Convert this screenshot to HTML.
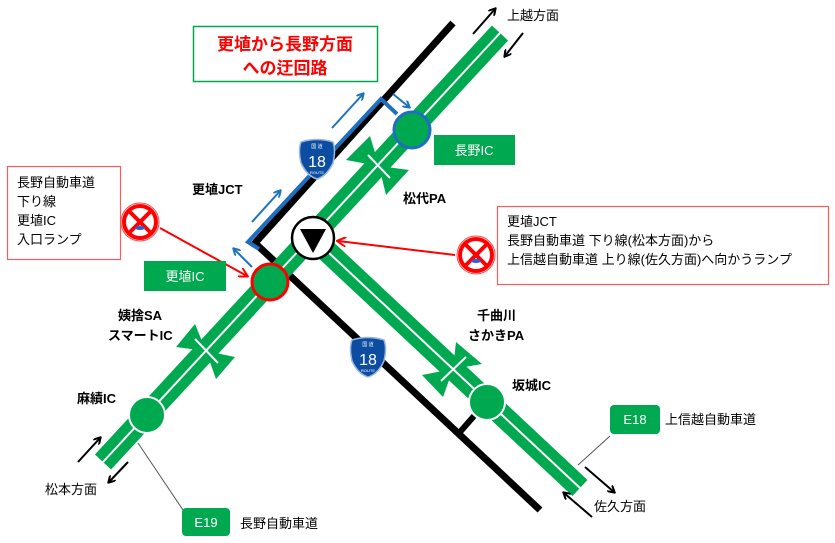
<!DOCTYPE html>
<html><head><meta charset="utf-8"><style>
html,body{margin:0;padding:0;background:#fff;}
svg{display:block;font-family:"Liberation Sans","Noto Sans CJK JP",sans-serif;}
</style></head><body>
<svg width="835" height="543" viewBox="0 0 835 543" xmlns="http://www.w3.org/2000/svg">
<defs>
<marker id="ab" markerWidth="8" markerHeight="8" refX="6" refY="4" orient="auto" markerUnits="userSpaceOnUse"><path d="M0,0 L7,4 L0,8" fill="none" stroke="#000" stroke-width="2"/></marker>
<marker id="abl" markerWidth="8" markerHeight="8" refX="6" refY="4" orient="auto" markerUnits="userSpaceOnUse"><path d="M0,0 L7,4 L0,8" fill="none" stroke="#1e73be" stroke-width="2"/></marker>
<marker id="ar" markerWidth="10" markerHeight="10" refX="8" refY="5" orient="auto" markerUnits="userSpaceOnUse"><path d="M0,0 L9,5 L0,10" fill="none" stroke="#f00" stroke-width="2"/></marker>
</defs>

<polyline points="453,23 255,243 540,510" fill="none" stroke="#000" stroke-width="7"/>
<line x1="460" y1="432" x2="474" y2="416" stroke="#000" stroke-width="6"/>

<polyline points="259,249 248,242 381,99 397,114" fill="none" stroke="#1e6fbf" stroke-width="4"/>

<line x1="103" y1="462" x2="500" y2="33" stroke="#00a850" stroke-width="22"/>
<line x1="103" y1="462" x2="500" y2="33" stroke="#fff" stroke-width="2"/>
<line x1="313" y1="238" x2="580" y2="488" stroke="#00a850" stroke-width="22"/>
<line x1="313" y1="238" x2="580" y2="488" stroke="#fff" stroke-width="2"/>

<g fill="#00a850">
<polygon points="346,160 370,136 379,166"/><polygon points="386,195 409,170 379,166"/>
<polygon points="176,347 195,324 206,351"/><polygon points="216,379 235,357 206,351"/>
<polygon points="456,342 482,364 453,369"/><polygon points="422,375 443,397 453,369"/>
</g>
<g stroke="#fff" stroke-width="2">
<line x1="368" y1="155" x2="390" y2="178"/><line x1="195" y1="339" x2="218" y2="363"/><line x1="441" y1="381" x2="466" y2="357"/>
</g>

<circle cx="412" cy="130" r="18" fill="#00a850" stroke="#1e6fbf" stroke-width="3"/>
<circle cx="270" cy="282" r="18" fill="#00a850" stroke="#f00" stroke-width="3"/>
<circle cx="147" cy="415" r="18" fill="#00a850" stroke="#fff" stroke-width="2"/>
<circle cx="487" cy="402" r="18" fill="#00a850" stroke="#fff" stroke-width="2"/>
<circle cx="313" cy="238" r="21" fill="#fff" stroke="#000" stroke-width="2.5"/>
<polygon points="300,229 326,229 313,253" fill="#000"/>

<g>
<path d="M301,142 Q317,137 333,142 Q336,150 333,163 Q327,176 317,179 Q307,176 301,163 Q298,150 301,142Z" fill="#0d4da1" stroke="#9bb8e0" stroke-width="1.5"/>
<text x="317" y="148" font-size="5" fill="#fff" text-anchor="middle">国 道</text>
<text x="317" y="167" font-size="16" fill="#fff" text-anchor="middle">18</text>
<text x="317" y="174" font-size="4" fill="#fff" text-anchor="middle">ROUTE</text>
</g>
<g>
<path d="M352,340 Q368,335 384,340 Q387,348 384,361 Q378,374 368,377 Q358,374 352,361 Q349,348 352,340Z" fill="#0d4da1" stroke="#9bb8e0" stroke-width="1.5"/>
<text x="368" y="346" font-size="5" fill="#fff" text-anchor="middle">国 道</text>
<text x="368" y="365" font-size="16" fill="#fff" text-anchor="middle">18</text>
<text x="368" y="372" font-size="4" fill="#fff" text-anchor="middle">ROUTE</text>
</g>

<g stroke="#1e73be" stroke-width="2" fill="none" marker-end="url(#abl)">
<line x1="252" y1="222" x2="280" y2="191"/>
<line x1="332" y1="128" x2="363" y2="94"/>
<line x1="393" y1="94" x2="409" y2="107"/>
<line x1="252" y1="267" x2="234" y2="249"/>
</g>

<g stroke="#000" stroke-width="2" fill="none" marker-end="url(#ab)">
<line x1="473" y1="34" x2="495" y2="9"/>
<line x1="523" y1="33" x2="505" y2="56"/>
<line x1="78" y1="462" x2="100" y2="438"/>
<line x1="128" y1="462" x2="109" y2="482"/>
<line x1="585" y1="467" x2="614" y2="492"/>
<line x1="592" y1="517" x2="564" y2="493"/>
</g>

<line x1="138" y1="443" x2="183" y2="510" stroke="#555" stroke-width="1"/>
<line x1="610" y1="436" x2="578" y2="465" stroke="#555" stroke-width="1"/>

<rect x="193.5" y="26.5" width="184" height="55" fill="#fff" stroke="#00a850" stroke-width="1.5"/>
<text x="285" y="50" font-size="17" font-weight="bold" fill="#f00" text-anchor="middle">更埴から長野方面</text>
<text x="285" y="74" font-size="17" font-weight="bold" fill="#f00" text-anchor="middle">への迂回路</text>

<rect x="7.5" y="166.5" width="113" height="93" fill="#fff" stroke="#f06060" stroke-width="1.2"/>
<g font-size="13" fill="#000">
<text x="17" y="187">長野自動車道</text>
<text x="17" y="206">下り線</text>
<text x="17" y="225">更埴IC</text>
<text x="17" y="244">入口ランプ</text>
</g>
<rect x="497.5" y="206.5" width="331" height="78" fill="#fff" stroke="#f06060" stroke-width="1.2"/>
<g font-size="13" fill="#000">
<text x="507" y="226">更埴JCT</text>
<text x="507" y="245">長野自動車道 下り線(松本方面)から</text>
<text x="507" y="264">上信越自動車道 上り線(佐久方面)へ向かうランプ</text>
</g>

<line x1="160" y1="228" x2="247" y2="276" stroke="#f00" stroke-width="2" marker-end="url(#ar)"/>
<line x1="455" y1="255" x2="338" y2="241" stroke="#f00" stroke-width="2" marker-end="url(#ar)"/>

<g>
<circle cx="140" cy="222" r="19" fill="#fff" stroke="#f44" stroke-width="1"/>
<circle cx="140" cy="222" r="16" fill="#fff" stroke="#f00" stroke-width="4"/>
<path d="M130,212 L150,232 M150,212 L130,232" stroke="#f00" stroke-width="4"/>
<ellipse cx="140" cy="228" rx="5" ry="2" fill="#2b5fe0"/>
</g>
<g>
<circle cx="476" cy="255" r="19" fill="#fff" stroke="#f44" stroke-width="1"/>
<circle cx="476" cy="255" r="16" fill="#fff" stroke="#f00" stroke-width="4"/>
<path d="M466,245 L486,265 M486,245 L466,265" stroke="#f00" stroke-width="4"/>
<ellipse cx="476" cy="261" rx="5" ry="2" fill="#2b5fe0"/>
</g>

<rect x="434" y="135" width="81" height="30" fill="#00a850"/>
<text x="474" y="155" font-size="13" fill="#fff" text-anchor="middle">長野IC</text>
<rect x="144" y="261" width="82" height="30" fill="#00a850"/>
<text x="185" y="281" font-size="13" fill="#fff" text-anchor="middle">更埴IC</text>
<rect x="182" y="508" width="48" height="28" rx="4" fill="#00a850"/>
<text x="206" y="527" font-size="13" fill="#fff" text-anchor="middle">E19</text>
<text x="240" y="528" font-size="13" fill="#000">長野自動車道</text>
<rect x="610" y="405" width="50" height="29" rx="4" fill="#00a850"/>
<text x="635" y="424" font-size="13" fill="#fff" text-anchor="middle">E18</text>
<text x="665" y="424" font-size="13" fill="#000">上信越自動車道</text>

<g font-size="13" fill="#000">
<text x="507" y="20">上越方面</text>
<text x="45" y="494">松本方面</text>
<text x="594" y="511">佐久方面</text>
</g>
<g font-size="13" font-weight="bold" fill="#000">
<text x="192" y="194">更埴JCT</text>
<text x="403" y="203">松代PA</text>
<text x="118" y="320">姨捨SA</text>
<text x="108" y="340">スマートIC</text>
<text x="77" y="403">麻績IC</text>
<text x="477" y="320">千曲川</text>
<text x="468" y="340">さかきPA</text>
<text x="512" y="390">坂城IC</text>
</g>
</svg>
</body></html>
